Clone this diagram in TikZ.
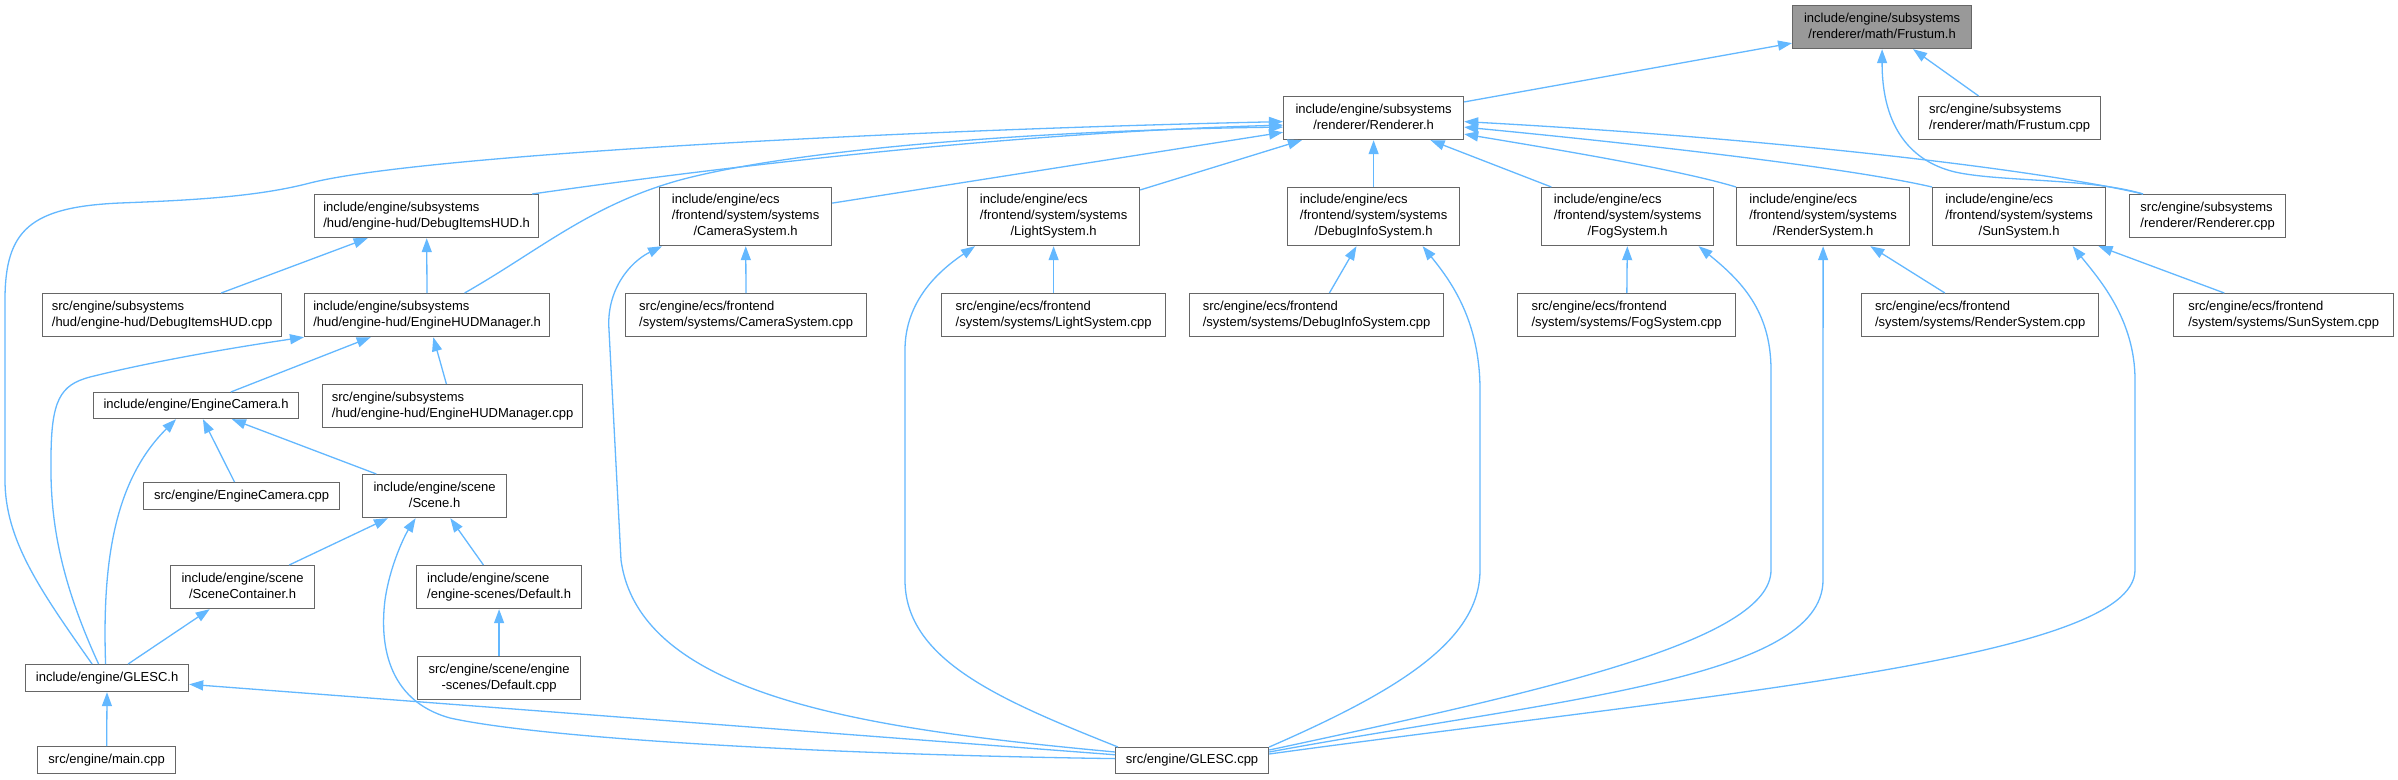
\documentclass[tikz,border=0pt]{standalone}
\usepackage{fontspec}
\setmainfont{Liberation Sans}
\usetikzlibrary{arrows.meta,calc}
\definecolor{edgeblue}{HTML}{63B8FF}
\definecolor{boxgray}{HTML}{666666}
\definecolor{hlgray}{HTML}{999999}
\newcommand\dxlabel[2]{\begin{tabular}{@{}l@{}}#1\\\multicolumn{1}{@{}c@{}}{#2}\end{tabular}}
\begin{document}
\begin{tikzpicture}[x=1pt,y=-1pt,
  box/.style={draw=boxgray,line width=1.2pt,fill=white,inner sep=0pt,anchor=north west,font=\fontsize{13}{16}\selectfont},
  edge/.style={draw=edgeblue,line width=1.3pt,-{Triangle[length=14pt,width=10pt]}}]
\useasboundingbox[fill=white] (0,0) rectangle (2398,779);

% nodes
\node[box,fill=hlgray,minimum width=179pt,minimum height=43pt] (frustum) at (1792,5) {\dxlabel{include/engine/subsystems}{/renderer/math/Frustum.h}};
\node[box,minimum width=180pt,minimum height=43pt] (renderer) at (1283,96) {\dxlabel{include/engine/subsystems}{/renderer/Renderer.h}};
\node[box,minimum width=182pt,minimum height=43pt] (frustumcpp) at (1918,96) {\dxlabel{src/engine/subsystems}{/renderer/math/Frustum.cpp}};

\node[box,minimum width=224pt,minimum height=43pt] (dihud) at (314,194) {\dxlabel{include/engine/subsystems}{/hud/engine-hud/DebugItemsHUD.h}};
\node[box,minimum width=172pt,minimum height=58pt] (camsys) at (659,187) {\dxlabel{include/engine/ecs\\/frontend/system/systems}{/CameraSystem.h}};
\node[box,minimum width=172pt,minimum height=58pt] (lightsys) at (967,187) {\dxlabel{include/engine/ecs\\/frontend/system/systems}{/LightSystem.h}};
\node[box,minimum width=172pt,minimum height=58pt] (dbginfo) at (1287,187) {\dxlabel{include/engine/ecs\\/frontend/system/systems}{/DebugInfoSystem.h}};
\node[box,minimum width=172pt,minimum height=58pt] (fogsys) at (1541,187) {\dxlabel{include/engine/ecs\\/frontend/system/systems}{/FogSystem.h}};
\node[box,minimum width=173pt,minimum height=58pt] (rendsys) at (1736,187) {\dxlabel{include/engine/ecs\\/frontend/system/systems}{/RenderSystem.h}};
\node[box,minimum width=173pt,minimum height=58pt] (sunsys) at (1932,187) {\dxlabel{include/engine/ecs\\/frontend/system/systems}{/SunSystem.h}};
\node[box,minimum width=156pt,minimum height=43pt] (rendcpp) at (2129,194) {\dxlabel{src/engine/subsystems}{/renderer/Renderer.cpp}};

\node[box,minimum width=239pt,minimum height=43pt] (dihudcpp) at (42,293) {\dxlabel{src/engine/subsystems}{/hud/engine-hud/DebugItemsHUD.cpp}};
\node[box,minimum width=245pt,minimum height=43pt] (hudmgr) at (304,293) {\dxlabel{include/engine/subsystems}{/hud/engine-hud/EngineHUDManager.h}};
\node[box,minimum width=241pt,minimum height=43pt] (camcpp) at (625,293) {\dxlabel{src/engine/ecs/frontend}{/system/systems/CameraSystem.cpp}};
\node[box,minimum width=224pt,minimum height=43pt] (lightcpp) at (941,293) {\dxlabel{src/engine/ecs/frontend}{/system/systems/LightSystem.cpp}};
\node[box,minimum width=254pt,minimum height=43pt] (dbgcpp) at (1189,293) {\dxlabel{src/engine/ecs/frontend}{/system/systems/DebugInfoSystem.cpp}};
\node[box,minimum width=218pt,minimum height=43pt] (fogcpp) at (1517,293) {\dxlabel{src/engine/ecs/frontend}{/system/systems/FogSystem.cpp}};
\node[box,minimum width=237pt,minimum height=43pt] (rendsyscpp) at (1861,293) {\dxlabel{src/engine/ecs/frontend}{/system/systems/RenderSystem.cpp}};
\node[box,minimum width=220pt,minimum height=43pt] (suncpp) at (2173,293) {\dxlabel{src/engine/ecs/frontend}{/system/systems/SunSystem.cpp}};

\node[box,minimum width=205pt,minimum height=26pt] (engcam) at (93,392) {include/engine/EngineCamera.h};
\node[box,minimum width=260pt,minimum height=43pt] (hudmgrcpp) at (322,384) {\dxlabel{src/engine/subsystems}{/hud/engine-hud/EngineHUDManager.cpp}};
\node[box,minimum width=196pt,minimum height=27pt] (engcamcpp) at (143,482) {src/engine/EngineCamera.cpp};
\node[box,minimum width=144pt,minimum height=43pt] (scene) at (362,474) {\dxlabel{include/engine/scene}{/Scene.h}};
\node[box,minimum width=144pt,minimum height=43pt] (scenecont) at (170,565) {\dxlabel{include/engine/scene}{/SceneContainer.h}};
\node[box,minimum width=165pt,minimum height=43pt] (defaulth) at (416,565) {\dxlabel{include/engine/scene}{/engine-scenes/Default.h}};
\node[box,minimum width=163pt,minimum height=27pt] (glesch) at (25,664) {include/engine/GLESC.h};
\node[box,minimum width=163pt,minimum height=43pt] (defaultcpp) at (417,656) {\dxlabel{src/engine/scene/engine}{-scenes/Default.cpp}};
\node[box,minimum width=138pt,minimum height=27pt] (maincpp) at (37,746) {src/engine/main.cpp};
\node[box,minimum width=153pt,minimum height=26pt] (glesccpp) at (1115,747) {src/engine/GLESC.cpp};

% edges to Frustum.h
\draw[edge] (renderer) -- (frustum);
\draw[edge] (frustumcpp) -- (frustum);
\draw[edge] ($(rendcpp.north west)+(14,0)$) .. controls (2090,178) and (2000,182) .. (1955,172) .. controls (1905,160) and (1882,120) .. (frustum.south);

% edges to Renderer.h
\draw[edge] ($(rendcpp.north west)+(14,0)$) .. controls (2050,172) and (1800,140) .. ($(renderer.east)+(0,3.5)$);
\draw[edge] (sunsys.north west) .. controls (1850,168) and (1650,145) .. ($(renderer.east)+(0,9)$);
\draw[edge] (rendsys.north west) .. controls (1680,170) and (1560,150) .. ($(renderer.east)+(0,16)$);
\draw[edge] (fogsys) -- (renderer);
\draw[edge] (dbginfo) -- (renderer);
\draw[edge] (lightsys) -- (renderer);
\draw[edge] (camsys) -- (renderer);
\draw[edge] ($(dihud.north east)+(-7,0)$) .. controls (700,170) and (1000,133) .. ($(renderer.west)+(0,7)$);
\draw[edge] ($(hudmgr.north)+(37.5,0)$) .. controls (540,250) and (590,205) .. (680,180) .. controls (800,148) and (1050,130) .. ($(renderer.west)+(0,9)$);
\draw[edge] ($(glesch.north)+(-15,0)$) .. controls (40,590) and (5,540) .. (5,480) -- (5,300) .. controls (5,230) and (30,207) .. (120,203) .. controls (200,200) and (260,196) .. (310,183) .. controls (420,155) and (900,130) .. ($(renderer.west)+(0,3.5)$);

% DebugItemsHUD.h
\draw[edge] (dihudcpp) -- (dihud);
\draw[edge] (hudmgr) -- (dihud);

% CameraSystem.h
\draw[edge] (camcpp) -- (camsys);
\draw[edge] ($(glesccpp.north west)+(0,5)$) .. controls (880,730) and (640,700) .. (621,560) -- (609,330) .. controls (606,290) and (630,262) .. ($(camsys.south west)+(3,0)$);

% LightSystem.h
\draw[edge] (lightcpp) -- (lightsys);
\draw[edge] ($(glesccpp.north west)+(3,0)$) .. controls (1000,700) and (905,660) .. (905,580) -- (905,350) .. controls (905,300) and (940,270) .. ($(lightsys.south west)+(8,0)$);

% DebugInfoSystem.h
\draw[edge] (dbgcpp) -- (dbginfo);
\draw[edge] (glesccpp.north east) .. controls (1400,690) and (1480,640) .. (1480,570) -- (1480,390) .. controls (1480,320) and (1450,280) .. ($(dbginfo.south)+(49,0)$);

% FogSystem.h
\draw[edge] (fogcpp) -- (fogsys);
\draw[edge] ($(glesccpp.north east)+(0,3)$) .. controls (1550,690) and (1771,640) .. (1771,570) -- (1771,370) .. controls (1771,310) and (1740,280) .. ($(fogsys.south)+(71,0)$);

% RenderSystem.h
\draw[edge] (rendsyscpp) -- (rendsys);
\draw[edge] ($(glesccpp.north east)+(0,5)$) .. controls (1550,700) and (1823,680) .. (1823,580) -- (rendsys.south);

% SunSystem.h
\draw[edge] (suncpp) -- (sunsys);
\draw[edge] ($(glesccpp.north east)+(0,7)$) .. controls (1700,695) and (2135,660) .. (2135,570) -- (2135,380) .. controls (2135,320) and (2100,280) .. ($(sunsys.south)+(53.5,0)$);

% EngineHUDManager.h
\draw[edge] (engcam) -- (hudmgr);
\draw[edge] (hudmgrcpp) -- (hudmgr);
\draw[edge] ($(glesch.north)+(-8.5,0)$) .. controls (60,580) and (50,520) .. (51,460) .. controls (51,400) and (60,385) .. (90,377) .. controls (150,362) and (230,348) .. (hudmgr.south west);

% EngineCamera.h
\draw[edge] (engcamcpp) -- (engcam);
\draw[edge] (scene) -- (engcam);
\draw[edge] ($(glesch.north)+(-1.5,0)$) .. controls (102,560) and (115,480) .. ($(engcam.south)+(-20,0)$);

% Scene.h
\draw[edge] (scenecont) -- (scene);
\draw[edge] (defaulth) -- (scene);
\draw[edge] ($(glesccpp.west)+(0,-2)$) .. controls (850,755) and (550,740) .. (450,718) .. controls (385,700) and (380,640) .. (385,600) .. controls (390,565) and (405,535) .. ($(scene.south)+(-19,0)$);

% remaining
\draw[edge] (glesch) -- (scenecont);
\draw[edge] (defaultcpp) -- (defaulth);
\draw[edge] (maincpp) -- (glesch);
\draw[edge] (glesccpp) -- (glesch);
\end{tikzpicture}
\end{document}
